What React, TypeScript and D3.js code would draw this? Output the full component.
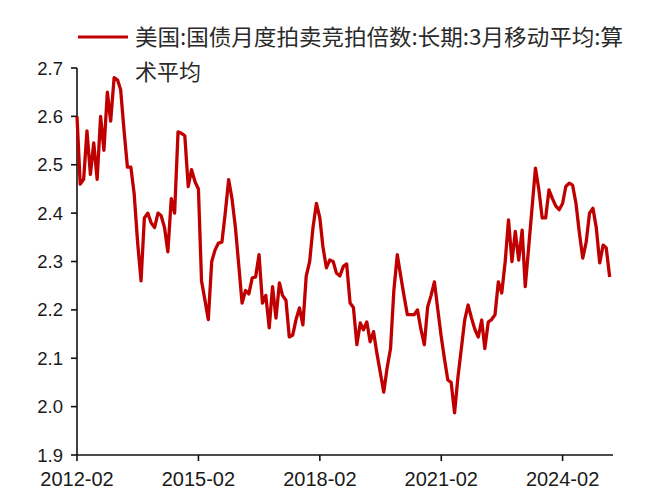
import React from "react";
import * as d3 from "d3";

const seriesName = "美国:国债月度拍卖竞拍倍数:长期:3月移动平均:算术平均";
const legendLine1 = "美国:国债月度拍卖竞拍倍数:长期:3月移动平均:算";
const legendLine2 = "术平均";
const startMonth = "2012-02";
const values: number[] = [
  2.60, 2.46, 2.47, 2.57, 2.48, 2.545, 2.47, 2.60, 2.53, 2.65,
  2.59, 2.68, 2.675, 2.655, 2.57, 2.495, 2.495, 2.44, 2.34, 2.26,
  2.39, 2.40, 2.38, 2.37, 2.40, 2.395, 2.37, 2.32, 2.43, 2.40,
  2.568, 2.565, 2.56, 2.455, 2.49, 2.465, 2.45, 2.26, 2.22, 2.18,
  2.30, 2.324, 2.338, 2.34, 2.40, 2.469, 2.43, 2.37, 2.29, 2.214,
  2.24, 2.233, 2.266, 2.268, 2.314, 2.214, 2.23, 2.163, 2.248, 2.183,
  2.256, 2.23, 2.22, 2.144, 2.148, 2.18, 2.204, 2.169, 2.27, 2.30,
  2.37, 2.42, 2.39, 2.33, 2.287, 2.303, 2.30, 2.276, 2.27, 2.29,
  2.295, 2.214, 2.205, 2.128, 2.173, 2.159, 2.175, 2.134, 2.155, 2.11,
  2.07, 2.03, 2.08, 2.12, 2.24, 2.314, 2.27, 2.23, 2.19, 2.19,
  2.19, 2.20, 2.16, 2.128, 2.206, 2.23, 2.258, 2.20, 2.144, 2.10,
  2.055, 2.05, 1.987, 2.06, 2.12, 2.18, 2.21, 2.183, 2.16, 2.144,
  2.179, 2.12, 2.175, 2.18, 2.19, 2.258, 2.235, 2.30, 2.386, 2.30,
  2.362, 2.303, 2.365, 2.248, 2.33, 2.41, 2.493, 2.45, 2.39, 2.39,
  2.448, 2.43, 2.415, 2.407, 2.42, 2.455, 2.462, 2.458, 2.42, 2.36,
  2.307, 2.34, 2.40, 2.41, 2.37, 2.297, 2.334, 2.328, 2.268,
];
const xTickLabels = ["2012-02", "2015-02", "2018-02", "2021-02", "2024-02"];
const yTicks = [1.9, 2.0, 2.1, 2.2, 2.3, 2.4, 2.5, 2.6, 2.7];
const xEndMonth = "2025-05";

const parse = d3.timeParse("%Y-%m");

export default function App() {
  const start = parse(startMonth)!;
  const data = values.map((v, i) => ({ date: d3.timeMonth.offset(start, i), v }));
  const x = d3.scaleTime().domain([start, parse(xEndMonth)!]).range([77, 613]);
  const y = d3.scaleLinear().domain([1.9, 2.7]).range([455, 68]);
  const line = d3
    .line<{ date: Date; v: number }>()
    .x((d) => x(d.date))
    .y((d) => y(d.v))
    .curve(d3.curveLinear);
  const red = "#c00000";
  const axisColor = "#111";
  const tickFont = "'Liberation Sans', Arial, sans-serif";
  const cjkFont = "'Noto Sans CJK SC', sans-serif";
  return (
    <svg
      width={669}
      height={492}
      style={{ position: "absolute", left: 0, top: 0, background: "#fff" }}
      aria-label={seriesName}
    >
      <rect x={0} y={0} width={669} height={492} fill="#fff" />
      {/* legend */}
      <line x1={78} x2={128} y1={37} y2={37} stroke={red} strokeWidth={3.2} />
      <text x={135} y={45} fontFamily={cjkFont} fontSize={22} fill="#2a2a2a" textLength={488} lengthAdjust="spacingAndGlyphs">
        {legendLine1}
      </text>
      <text x={135} y={80} fontFamily={cjkFont} fontSize={22} fill="#2a2a2a">
        {legendLine2}
      </text>
      {/* y axis */}
      <line x1={77} x2={77} y1={y(2.7)} y2={y(1.9)} stroke={axisColor} strokeWidth={1.6} />
      {yTicks.map((t) => (
        <g key={t}>
          <line x1={71} x2={77} y1={y(t)} y2={y(t)} stroke={axisColor} strokeWidth={1.6} />
          <text
            x={63}
            y={y(t) + 6.5}
            textAnchor="end"
            fontFamily={tickFont}
            fontSize={18.5}
            fill="#1a1a1a"
          >
            {t.toFixed(1)}
          </text>
        </g>
      ))}
      {/* x axis */}
      <line x1={77} x2={613} y1={455} y2={455} stroke={axisColor} strokeWidth={1.6} />
      {xTickLabels.map((lbl) => {
        const px = x(parse(lbl)!);
        return (
          <g key={lbl}>
            <line x1={px} x2={px} y1={455} y2={461} stroke={axisColor} strokeWidth={1.6} />
            <text
              x={px}
              y={486}
              textAnchor="middle"
              fontFamily={tickFont}
              fontSize={20}
              fill="#1a1a1a"
            >
              {lbl}
            </text>
          </g>
        );
      })}
      <path d={line(data) || ""} fill="none" stroke={red} strokeWidth={3.3} strokeLinejoin="round" />
    </svg>
  );
}
